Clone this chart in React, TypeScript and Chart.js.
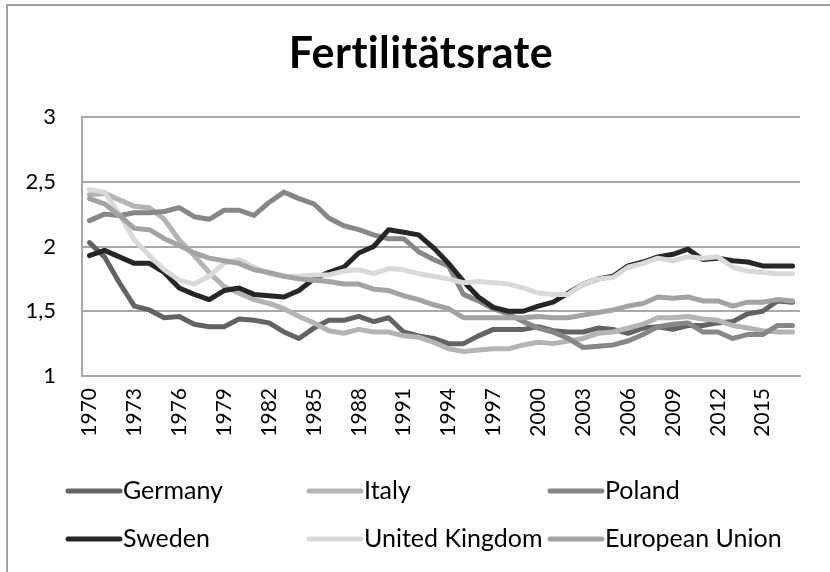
import React, { useEffect, useRef } from "react";
import { Chart, registerables } from "chart.js";

Chart.register(...registerables);

const years = [
  "1970","1971","1972","1973","1974","1975","1976","1977","1978","1979",
  "1980","1981","1982","1983","1984","1985","1986","1987","1988","1989",
  "1990","1991","1992","1993","1994","1995","1996","1997","1998","1999",
  "2000","2001","2002","2003","2004","2005","2006","2007","2008","2009",
  "2010","2011","2012","2013","2014","2015","2016","2017",
];

const germany = [
  2.03,1.92,1.72,1.54,1.51,1.45,1.46,1.40,1.38,1.38,
  1.44,1.43,1.41,1.34,1.29,1.37,1.43,1.43,1.46,1.42,
  1.45,1.34,1.31,1.29,1.25,1.25,1.31,1.36,1.36,1.36,
  1.38,1.35,1.34,1.34,1.37,1.36,1.33,1.37,1.38,1.36,
  1.39,1.39,1.41,1.42,1.48,1.50,1.58,1.57,
];
const italy = [
  2.40,2.41,2.36,2.31,2.30,2.21,2.05,1.93,1.80,1.69,
  1.64,1.59,1.56,1.52,1.46,1.41,1.35,1.33,1.36,1.34,
  1.34,1.31,1.30,1.26,1.21,1.19,1.20,1.21,1.21,1.24,
  1.26,1.25,1.27,1.29,1.33,1.34,1.37,1.40,1.45,1.45,
  1.46,1.44,1.43,1.39,1.37,1.35,1.34,1.34,
];
const poland = [
  2.20,2.25,2.24,2.26,2.26,2.27,2.30,2.23,2.21,2.28,
  2.28,2.24,2.34,2.42,2.37,2.33,2.22,2.16,2.13,2.09,
  2.06,2.06,1.96,1.90,1.85,1.63,1.58,1.52,1.48,1.42,
  1.37,1.34,1.29,1.22,1.23,1.24,1.27,1.32,1.38,1.40,
  1.41,1.34,1.34,1.29,1.32,1.32,1.39,1.39,
];
const sweden = [
  1.93,1.97,1.92,1.87,1.87,1.80,1.68,1.63,1.59,1.66,
  1.68,1.63,1.62,1.61,1.66,1.75,1.80,1.84,1.95,2.00,
  2.13,2.11,2.09,1.99,1.87,1.73,1.61,1.53,1.50,1.50,
  1.54,1.57,1.64,1.71,1.75,1.77,1.85,1.88,1.92,1.94,
  1.98,1.90,1.91,1.89,1.88,1.85,1.85,1.85,
];
const unitedKingdom = [
  2.44,2.42,2.25,2.05,1.93,1.82,1.74,1.71,1.77,1.87,
  1.90,1.84,1.79,1.77,1.77,1.78,1.78,1.81,1.82,1.79,
  1.83,1.82,1.79,1.77,1.75,1.72,1.73,1.72,1.71,1.68,
  1.64,1.63,1.63,1.71,1.75,1.76,1.84,1.87,1.91,1.89,
  1.92,1.91,1.92,1.84,1.81,1.80,1.79,1.79,
];
const europeanUnion = [
  2.37,2.33,2.24,2.14,2.13,2.06,2.01,1.95,1.91,1.89,
  1.87,1.82,1.80,1.77,1.75,1.74,1.73,1.71,1.71,1.67,
  1.66,1.62,1.59,1.55,1.52,1.45,1.45,1.45,1.45,1.45,
  1.46,1.45,1.45,1.47,1.49,1.51,1.54,1.56,1.61,1.60,
  1.61,1.58,1.58,1.54,1.57,1.57,1.59,1.58,
];

const seriesNames = ["Germany", "Italy", "Poland", "Sweden", "United Kingdom", "European Union"];
const seriesData = [germany, italy, poland, sweden, unitedKingdom, europeanUnion];
const seriesColors = ["#636363", "#b4b4b4", "#878787", "#262626", "#d9d9d9", "#a3a3a3"];

const titleText = "Fertilitätsrate";
const FONT = "Lato, 'Open Sans', sans-serif";

const titleAndLegend = {
  id: "titleAndLegend",
  afterDraw(chart: any) {
    const ctx = chart.ctx;
    ctx.save();
    ctx.fillStyle = "#000000";
    ctx.font = `bold 43px ${FONT}`;
    try {
      (ctx as any).letterSpacing = "0.4px";
    } catch (e) {}
    ctx.textAlign = "center";
    ctx.textBaseline = "middle";
    ctx.fillText(titleText, 421, 54);
    try {
      (ctx as any).letterSpacing = "0px";
    } catch (e) {}

    ctx.font = `25px ${FONT}`;
    ctx.textAlign = "left";
    chart.data.datasets.forEach((ds: any, i: number) => {
      const col = i % 3;
      const row = Math.floor(i / 3);
      const x0 = 68 + col * 241;
      const y = 491 + row * 48;
      ctx.strokeStyle = ds.borderColor;
      ctx.lineWidth = 5;
      ctx.lineCap = "round";
      ctx.beginPath();
      ctx.moveTo(x0, y);
      ctx.lineTo(x0 + 52, y);
      ctx.stroke();
      ctx.fillStyle = "#000000";
      ctx.fillText(ds.label, x0 + 55, y);
    });
    ctx.restore();
  },
};

export default function App() {
  const canvasRef = useRef<HTMLCanvasElement | null>(null);

  useEffect(() => {
    if (!canvasRef.current) return;
    const chart = new Chart(canvasRef.current, {
      type: "line",
      data: {
        labels: years,
        datasets: seriesNames.map((name, i) => ({
          label: name,
          data: seriesData[i],
          borderColor: seriesColors[i],
          backgroundColor: seriesColors[i],
          borderWidth: 5,
          pointRadius: 0,
          tension: 0,
          borderJoinStyle: "round" as const,
          borderCapStyle: "round" as const,
          order: seriesNames.length - 1 - i,
        })),
      },
      options: {
        responsive: false,
        animation: false,
        devicePixelRatio: 1,
        layout: { padding: { top: 117, right: 24, left: 0, bottom: 0 } },
        plugins: {
          legend: { display: false },
          title: { display: false },
          tooltip: { enabled: false },
        },
        scales: {
          x: {
            type: "category",
            offset: true,
            grid: { display: false, drawTicks: false },
            border: { display: true, color: "#a8a8a8", width: 2 },
            ticks: {
              autoSkip: false,
              minRotation: 90,
              maxRotation: 90,
              padding: 12,
              color: "#000000",
              font: { family: FONT, size: 21 },
              callback: (_v: any, index: number) => (index % 3 === 0 ? years[index] : ""),
            },
            afterFit: (scale: any) => {
              scale.height = 196;
            },
          },
          y: {
            min: 1,
            max: 3,
            ticks: {
              stepSize: 0.5,
              padding: 26,
              color: "#000000",
              font: { family: FONT, size: 22 },
              callback: (v: any) => String(v).replace(".", ","),
            },
            grid: { color: "#a8a8a8", lineWidth: 2, drawTicks: false },
            border: { display: true, color: "#a8a8a8", width: 2 },
            afterFit: (scale: any) => {
              scale.width = 82;
            },
          },
        },
      },
      plugins: [titleAndLegend],
    });
    return () => chart.destroy();
  }, []);

  return (
    <div
      style={{
        position: "fixed",
        left: 0,
        top: 0,
        width: 830,
        height: 572,
        overflow: "hidden",
        background: "#ffffff",
      }}
    >
      <canvas ref={canvasRef} width={830} height={572} style={{ position: "absolute", left: 0, top: 0 }} />
      <div
        style={{
          position: "absolute",
          left: 6,
          top: 4,
          width: 900,
          height: 700,
          border: "2px solid #a0a0a0",
          pointerEvents: "none",
        }}
      />
    </div>
  );
}
